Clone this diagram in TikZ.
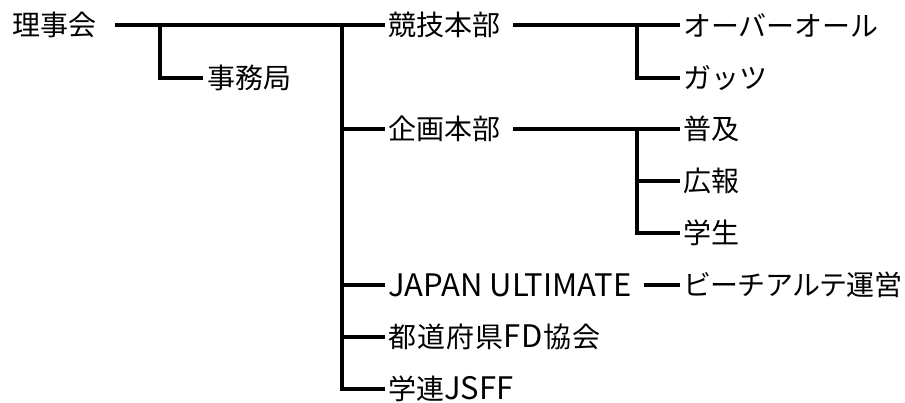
\documentclass[tikz,border=0pt]{standalone}
\usepackage{fontspec}
\setmainfont{Noto Sans CJK JP}
\newcommand{\biglat}[1]{{\fontsize{31}{31}\selectfont #1}}
\begin{document}
\begin{tikzpicture}[x=1pt,y=-1pt,
  lbl/.style={anchor=west,inner sep=0pt,font=\fontsize{28}{30}\selectfont},
  conn/.style={line width=4pt,line join=miter}]
\useasboundingbox[fill=white] (0,0) rectangle (905,403);
\node[lbl] (riji) at (12,25) {理事会};
\node[lbl] (jimu) at (207,78) {事務局};
\node[lbl] (kyogi) at (388,25) {競技本部};
\node[lbl] (over) at (683,25) {オーバーオール};
\node[lbl] (guts) at (683,78) {ガッツ};
\node[lbl] (kikaku) at (388,129) {企画本部};
\node[lbl] (fukyu) at (683,129) {普及};
\node[lbl] (koho) at (683,181) {広報};
\node[lbl] (gakusei) at (683,233) {学生};
\node[lbl] (japan) at (388,285) {\biglat{JAPAN ULTIMATE}};
\node[lbl] (beach) at (683,285) {\addfontfeature{LetterSpace=-2.5}ビーチアルテ運営};
\node[lbl] (todo) at (388,337) {\addfontfeature{LetterSpace=4}都道府県\biglat{FD}協会};
\node[lbl] (gakuren) at (388,389) {学連\biglat{JSFF}};
\coordinate (j1) at (160,25);
\coordinate (j2) at (342,25);
\coordinate (j3) at (637,25);
\coordinate (j4) at (637,129);
\draw[conn] ([xshift=19pt]riji.east) -- ([xshift=-3pt]kyogi.west);
\draw[conn] (j1) |- ([xshift=-4pt]jimu.west);
\draw[conn] (j2) |- ([xshift=-3pt]gakuren.west);
\draw[conn] (j2 |- kikaku.west) -- ([xshift=-3pt]kikaku.west);
\draw[conn] (j2 |- japan.west) -- ([xshift=-3pt]japan.west);
\draw[conn] (j2 |- todo.west) -- ([xshift=-3pt]todo.west);
\draw[conn] ([xshift=13pt]kyogi.east) -- ([xshift=-3pt]over.west);
\draw[conn] (j3) |- ([xshift=-3pt]guts.west);
\draw[conn] ([xshift=13pt]kikaku.east) -- ([xshift=-3pt]fukyu.west);
\draw[conn] (j4) |- ([xshift=-3pt]gakusei.west);
\draw[conn] (j4 |- koho.west) -- ([xshift=-3pt]koho.west);
\draw[conn] ([xshift=12pt]japan.east) -- ([xshift=-3pt]beach.west);
\end{tikzpicture}
\end{document}
